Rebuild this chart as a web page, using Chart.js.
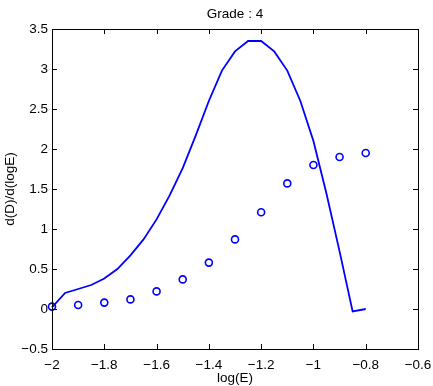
<!DOCTYPE html>
<html>
<head>
<meta charset="utf-8">
<script src="https://cdn.jsdelivr.net/npm/chart.js@4/dist/chart.umd.min.js"></script>
<style>
html, body { margin: 0; padding: 0; background: #fff; }
</style>
</head>
<body>
<canvas id="c" width="433" height="386"></canvas>
<script>
// derivative curve (solid line)
const curveX = [-2.0, -1.95, -1.9, -1.85, -1.8, -1.75, -1.7, -1.65, -1.6, -1.55, -1.5, -1.45, -1.4,
                -1.35, -1.3, -1.25, -1.2, -1.15, -1.1, -1.05, -1.0, -0.95, -0.9, -0.85, -0.8]
const curveY = [0.02, 0.2, 0.25, 0.3, 0.38, 0.5, 0.67, 0.87, 1.12, 1.42, 1.76, 2.17, 2.6,
                2.98, 3.22, 3.35, 3.35, 3.22, 2.98, 2.6, 2.1, 1.44, 0.72, -0.03, 0.0]

// measured values (circles)
const pointX = [-2.0, -1.9, -1.8, -1.7, -1.6, -1.5, -1.4, -1.3, -1.2, -1.1, -1.0, -0.9, -0.8]
const pointY = [0.03, 0.05, 0.08, 0.12, 0.22, 0.37, 0.58, 0.87, 1.21, 1.57, 1.8, 1.9, 1.95]

const titleText = 'Grade : 4'
const xTitle = 'log(E)'
const yTitle = 'd(D)/d(logE)'

const font = { family: '"Liberation Sans", Arial, Helvetica, sans-serif', size: 13.5 }

function fmt(v) {
    return Number(v.toFixed(1)).toString().replace('-', '\u2212')
}

// black box with inward tick marks on every side, title centred over the box
const boxTicks = {
    id: 'boxTicks',
    afterDraw(chart) {
        const { ctx, chartArea: a, scales: { x, y } } = chart
        ctx.save()
        ctx.strokeStyle = '#000'
        ctx.lineWidth = 1
        ctx.beginPath()
        x.ticks.forEach(t => {
            const px = Math.round(x.getPixelForValue(t.value)) + 0.5
            ctx.moveTo(px, a.bottom); ctx.lineTo(px, a.bottom - 5)
            ctx.moveTo(px, a.top); ctx.lineTo(px, a.top + 5)
        })
        y.ticks.forEach(t => {
            const py = Math.round(y.getPixelForValue(t.value)) + 0.5
            ctx.moveTo(a.left, py); ctx.lineTo(a.left + 5, py)
            ctx.moveTo(a.right, py); ctx.lineTo(a.right - 5, py)
        })
        ctx.stroke()
        ctx.strokeRect(Math.round(a.left) + 0.5, Math.round(a.top) + 0.5,
                       Math.round(a.right - a.left), Math.round(a.bottom - a.top))
        ctx.fillStyle = '#000'
        ctx.font = font.size + 'px ' + font.family
        ctx.textAlign = 'center'
        ctx.textBaseline = 'middle'
        ctx.fillText(titleText, (a.left + a.right) / 2, 14)
        ctx.restore()
    }
}

new Chart(document.getElementById('c'), {
    type: 'scatter',
    data: {
        datasets: [{
            type: 'line',
            data: curveX.map((v, i) => ({ x: v, y: curveY[i] })),
            borderColor: '#0000ff',
            borderWidth: 1.8,
            pointRadius: 0,
            fill: false,
            tension: 0,
            clip: false
        },
        {
            data: pointX.map((v, i) => ({ x: v, y: pointY[i] })),
            borderColor: '#0000ff',
            backgroundColor: 'rgba(0,0,0,0)',
            borderWidth: 1.6,
            pointRadius: 3.5,
            showLine: false,
            clip: false
        }]
    },
    options: {
        responsive: false,
        animation: false,
        layout: { padding: { top: 29, right: 15 } },
        plugins: {
            legend: { display: false },
            tooltip: { enabled: false },
            title: { display: false }
        },
        scales: {
            x: {
                type: 'linear',
                min: -2,
                max: -0.6,
                afterFit(s) { s.height = 37; s.paddingLeft = 0; s.paddingRight = 0 },
                grid: { drawOnChartArea: false, drawTicks: false },
                border: { display: false },
                ticks: { stepSize: 0.2, color: '#000', font: font, padding: 8, maxRotation: 0,
                         callback: v => fmt(v) },
                title: { display: true, text: xTitle, color: '#000', font: font, padding: 0 }
            },
            y: {
                min: -0.5,
                max: 3.5,
                afterFit(s) { s.width = 52; s.paddingTop = 0; s.paddingBottom = 0 },
                grid: { drawOnChartArea: false, drawTicks: false },
                border: { display: false },
                ticks: { stepSize: 0.5, color: '#000', font: font, padding: 4,
                         callback: v => fmt(v) },
                title: { display: true, text: yTitle, color: '#000', font: font, padding: { top: 2, bottom: 0 } }
            }
        }
    },
    plugins: [boxTicks]
})
</script>
</body>
</html>
